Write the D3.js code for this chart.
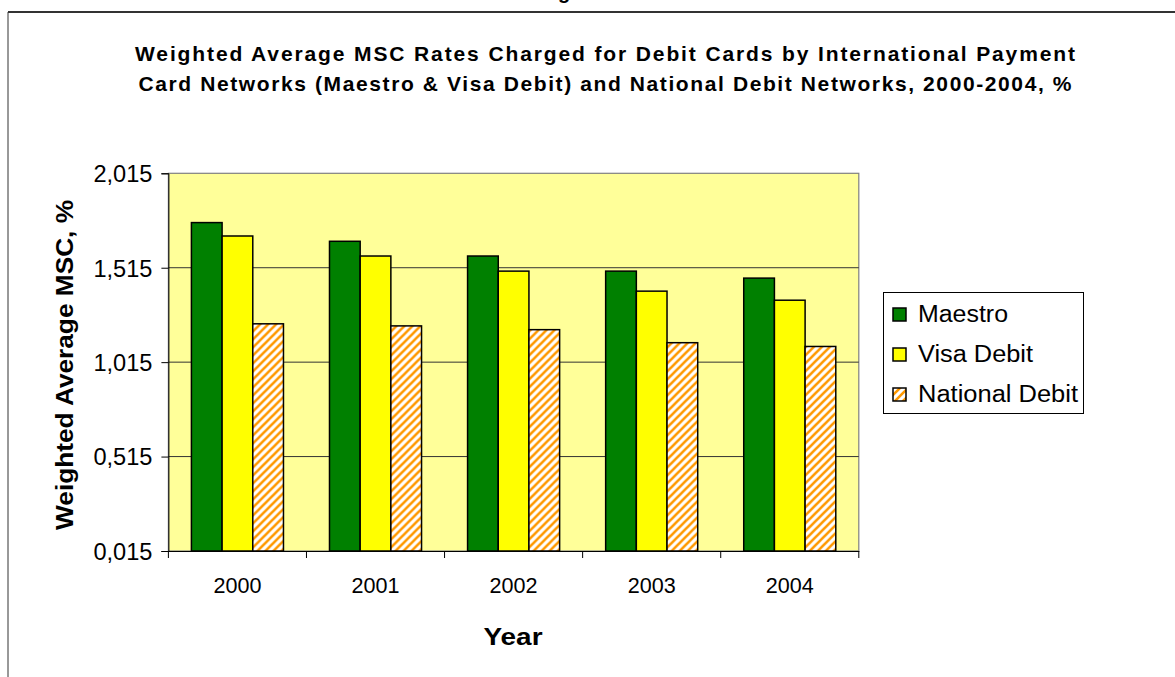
<!DOCTYPE html>
<html><head><meta charset="utf-8">
<script src="https://cdn.jsdelivr.net/npm/d3@7"></script>
<style>html,body{margin:0;padding:0;background:#fff;}svg{display:block;font-family:"Liberation Sans",Arial,sans-serif;}</style>
</head><body>
<script>
const years = ["2000","2001","2002","2003","2004"];
const seriesNames = ["Maestro","Visa Debit","National Debit"];
const maestro = [1.754, 1.655, 1.577, 1.497, 1.460];
const visaDebit = [1.683, 1.577, 1.497, 1.391, 1.343];
const nationalDebit = [1.218, 1.207, 1.187, 1.118, 1.098];
const yTicks = [0.015, 0.515, 1.015, 1.515, 2.015];
const titleLines = ["Weighted Average MSC Rates Charged for Debit Cards by International Payment",
                    "Card Networks (Maestro & Visa Debit) and National Debit Networks,  2000-2004, %"];

const W = 1175, H = 677;
const svg = d3.select("body").append("svg").attr("width", W).attr("height", H);
const defs = svg.append("defs");
const pat = defs.append("pattern").attr("id","stripes").attr("patternUnits","userSpaceOnUse")
  .attr("width",8).attr("height",8);
pat.append("rect").attr("width",8).attr("height",8).attr("fill","#fff");
pat.append("path").attr("d","M-2,2 L2,-2 M0,8 L8,0 M6,10 L10,6")
  .attr("stroke","#FF9900").attr("stroke-width",2.6);

const colors = ["#008000","#FFFF00","url(#stripes)"];
const data = years.map((yr,i)=>({year:yr, values:[maestro[i], visaDebit[i], nationalDebit[i]]}));

// partial clipped heading above frame (as in the reference)
svg.append("text").attr("x",564).attr("y",-1).attr("text-anchor","middle")
  .attr("font-size",20).attr("font-weight","bold").text("g");

// outer frame
svg.append("line").attr("x1",8).attr("x2",W).attr("y1",12).attr("y2",12).attr("stroke","#333").attr("stroke-width",2);
svg.append("line").attr("x1",8).attr("x2",8).attr("y1",12).attr("y2",H).attr("stroke","#333").attr("stroke-width",1);

// title
titleLines.forEach((t,i)=>{
  svg.append("text").attr("x",605).attr("y",60.5+30*i).attr("text-anchor","middle")
    .attr("font-size",21).attr("font-weight","bold")
    .attr("textLength", i===0?940:933).attr("lengthAdjust","spacing").text(t);
});

const pLeft = 168.4, pRight = 858.8, pTop = 173.3, pBottom = 551;
const x = d3.scaleBand().domain(years).range([pLeft,pRight]).padding(0);
const xi = d3.scaleBand().domain(seriesNames).range([0,x.bandwidth()]).paddingInner(0).paddingOuter(0.75);
const y = d3.scaleLinear().domain([0.015,2.015]).range([pBottom,pTop]);
const fmt = d3.formatLocale({decimal:",",thousands:".",grouping:[3],currency:["",""]}).format(".3f");

// plot background
svg.append("rect").attr("x",pLeft).attr("y",pTop).attr("width",pRight-pLeft).attr("height",pBottom-pTop)
  .attr("fill","#FFFF99").attr("stroke","#808080").attr("stroke-width",1.2);

// gridlines
svg.append("g").selectAll("line").data(yTicks.slice(1,-1)).join("line")
  .attr("x1",pLeft).attr("x2",pRight).attr("y1",d=>y(d)).attr("y2",d=>y(d))
  .attr("stroke","#333").attr("stroke-width",1);

// bars
const g = svg.append("g").selectAll("g").data(data).join("g").attr("transform",d=>`translate(${x(d.year)},0)`);
g.selectAll("rect").data(d=>d.values.map((v,k)=>({v,k}))).join("rect")
  .attr("x",d=>xi(seriesNames[d.k])).attr("width",xi.bandwidth())
  .attr("y",d=>y(d.v)).attr("height",d=>y(0.015)-y(d.v))
  .attr("fill",d=>colors[d.k]).attr("stroke","#000").attr("stroke-width",1.5);

// y axis
const yAxis = svg.append("g").attr("transform",`translate(${pLeft},0)`)
  .call(d3.axisLeft(y).tickValues(yTicks).tickFormat(fmt).tickSize(7).tickPadding(9));
yAxis.select(".domain").attr("stroke","#000");
yAxis.selectAll(".tick line").attr("stroke","#000");
yAxis.selectAll("text").attr("font-size",23).attr("font-family","Liberation Sans, Arial").attr("fill","#000")
  .attr("dy","0.36em").attr("textLength",59).attr("lengthAdjust","spacingAndGlyphs");

// x axis
const xAxis = svg.append("g").attr("transform",`translate(0,${pBottom})`)
  .call(d3.axisBottom(x).tickSize(0).tickPadding(0));
xAxis.select(".domain").attr("stroke","#000");
xAxis.selectAll(".tick text").attr("font-size",22).attr("font-family","Liberation Sans, Arial").attr("fill","#000")
  .attr("y",42).attr("dy",0).attr("textLength",48).attr("lengthAdjust","spacingAndGlyphs");
svg.append("g").selectAll("line").data(years.concat(["end"])).join("line")
  .attr("x1",d=>d==="end"?pRight:x(d)).attr("x2",d=>d==="end"?pRight:x(d))
  .attr("y1",pBottom).attr("y2",pBottom+7).attr("stroke","#000");

// axis titles
svg.append("text").attr("transform",`translate(73,365) rotate(-90)`).attr("text-anchor","middle")
  .attr("font-size",24).attr("font-weight","bold").attr("textLength",330).attr("lengthAdjust","spacingAndGlyphs")
  .text("Weighted Average MSC, %");
svg.append("text").attr("x",513).attr("y",645).attr("text-anchor","middle")
  .attr("font-size",24).attr("font-weight","bold").attr("textLength",59).attr("lengthAdjust","spacingAndGlyphs")
  .text("Year");

// legend
const lg = svg.append("g");
lg.append("rect").attr("x",883.5).attr("y",292.5).attr("width",200).attr("height",121)
  .attr("fill","#fff").attr("stroke","#000").attr("stroke-width",1);
const legendWidths = [90,115,160];
seriesNames.forEach((s,k)=>{
  const by = 322 + 40*k;
  lg.append("rect").attr("x",893).attr("y",by-14).attr("width",13).attr("height",13)
    .attr("fill",colors[k]).attr("stroke","#000").attr("stroke-width",1.5);
  lg.append("text").attr("x",918).attr("y",by).attr("font-size",23)
    .attr("textLength",legendWidths[k]).attr("lengthAdjust","spacingAndGlyphs").text(s);
});
</script>
</body></html>
